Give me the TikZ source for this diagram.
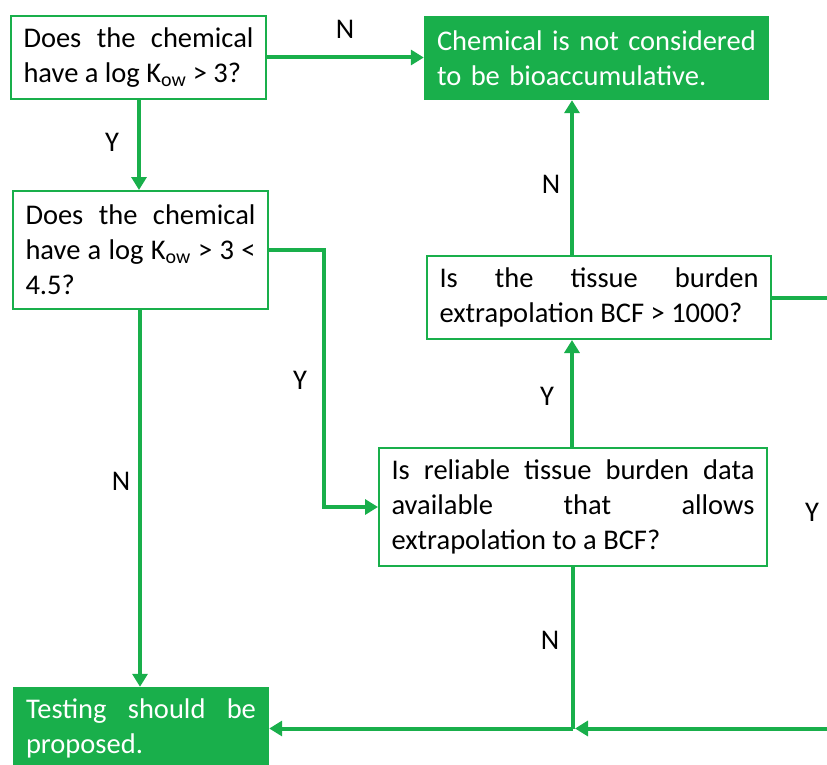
\documentclass[tikz,border=0pt]{standalone}
\usepackage{fontspec}
\setmainfont{Carlito}
\usetikzlibrary{arrows.meta}
\definecolor{fgreen}{RGB}{25,175,75}
\begin{document}
\begin{tikzpicture}[x=1pt,y=-1pt,
  every node/.style={font=\fontsize{28.5}{35}\selectfont},
  qbox/.style={draw=fgreen, line width=2pt, fill=white, inner xsep=12.5pt, inner ysep=0pt,
     align=justify, anchor=center},
  rbox/.style={fill=fgreen, text=white, inner xsep=13pt, inner ysep=0pt, align=left, anchor=center},
  conn/.style={draw=fgreen, line width=4pt},
  arr/.style={conn, -{Triangle[length=13pt,width=15pt]}},
  lbl/.style={inner sep=0pt, text=black}
]
\useasboundingbox (0,0) rectangle (827,765);
\clip (0,0) rectangle (827,765);

\node[qbox, text width=230pt, minimum height=83pt] (A) at (138.5,57.5)
  {Does the chemical\linebreak have a log K\textsubscript{ow} > 3?};
\node[qbox, text width=230pt, minimum height=118pt] (B) at (140.5,250)
  {Does the chemical\linebreak have a log K\textsubscript{ow} > 3 <\linebreak 4.5?};
\node[rbox, text width=319pt, minimum height=84pt] (C) at (596.5,58)
  {Chemical is not considered\\to be bioaccumulative.};
\node[qbox, text width=319pt, minimum height=83pt] (D) at (599,297.5)
  {Is the tissue burden\linebreak extrapolation BCF > 1000?};
\node[qbox, text width=363pt, minimum height=118pt] (E) at (573,507)
  {Is reliable tissue burden data\linebreak available that allows\linebreak extrapolation to a BCF?};
\node[rbox, text width=230pt, minimum height=83pt, align=justify] (F) at (141,728.5)
  {Testing should be\linebreak proposed.};

\coordinate (J) at (E.south |- F.east);
\coordinate (Ecol) at (572,0);

\draw[arr] (A.east) -- (A.east -| C.west);
\draw[arr] (A.south -| 139,0) -- (B.north -| 139,0);
\draw[arr] (B.east) -- ++(55,0) |- (E.west);
\draw[arr] (B.south -| 140,0) -- (F.north -| 140,0);
\draw[arr] (E.north -| Ecol) -- (D.south -| Ecol);
\draw[arr] (D.north -| Ecol) -- (C.south -| Ecol);
\draw[conn] (E.south) -- (J);
\draw[arr] (J) -- (F.east);
\draw[arr] (D.east) -- ++(90,0) |- ([xshift=2pt]J);

\node[lbl] (lN1) at (345,29) {N};
\node[lbl] (lY1) at (112,142) {Y};
\node[lbl] (lY2) at (300,380) {Y};
\node[lbl] (lN2) at (121,481) {N};
\node[lbl] (lN3) at (551,184) {N};
\node[lbl] (lY3) at (547,396) {Y};
\node[lbl] (lY4) at (812,512) {Y};
\node[lbl] (lN4) at (550,640) {N};
\end{tikzpicture}
\end{document}
